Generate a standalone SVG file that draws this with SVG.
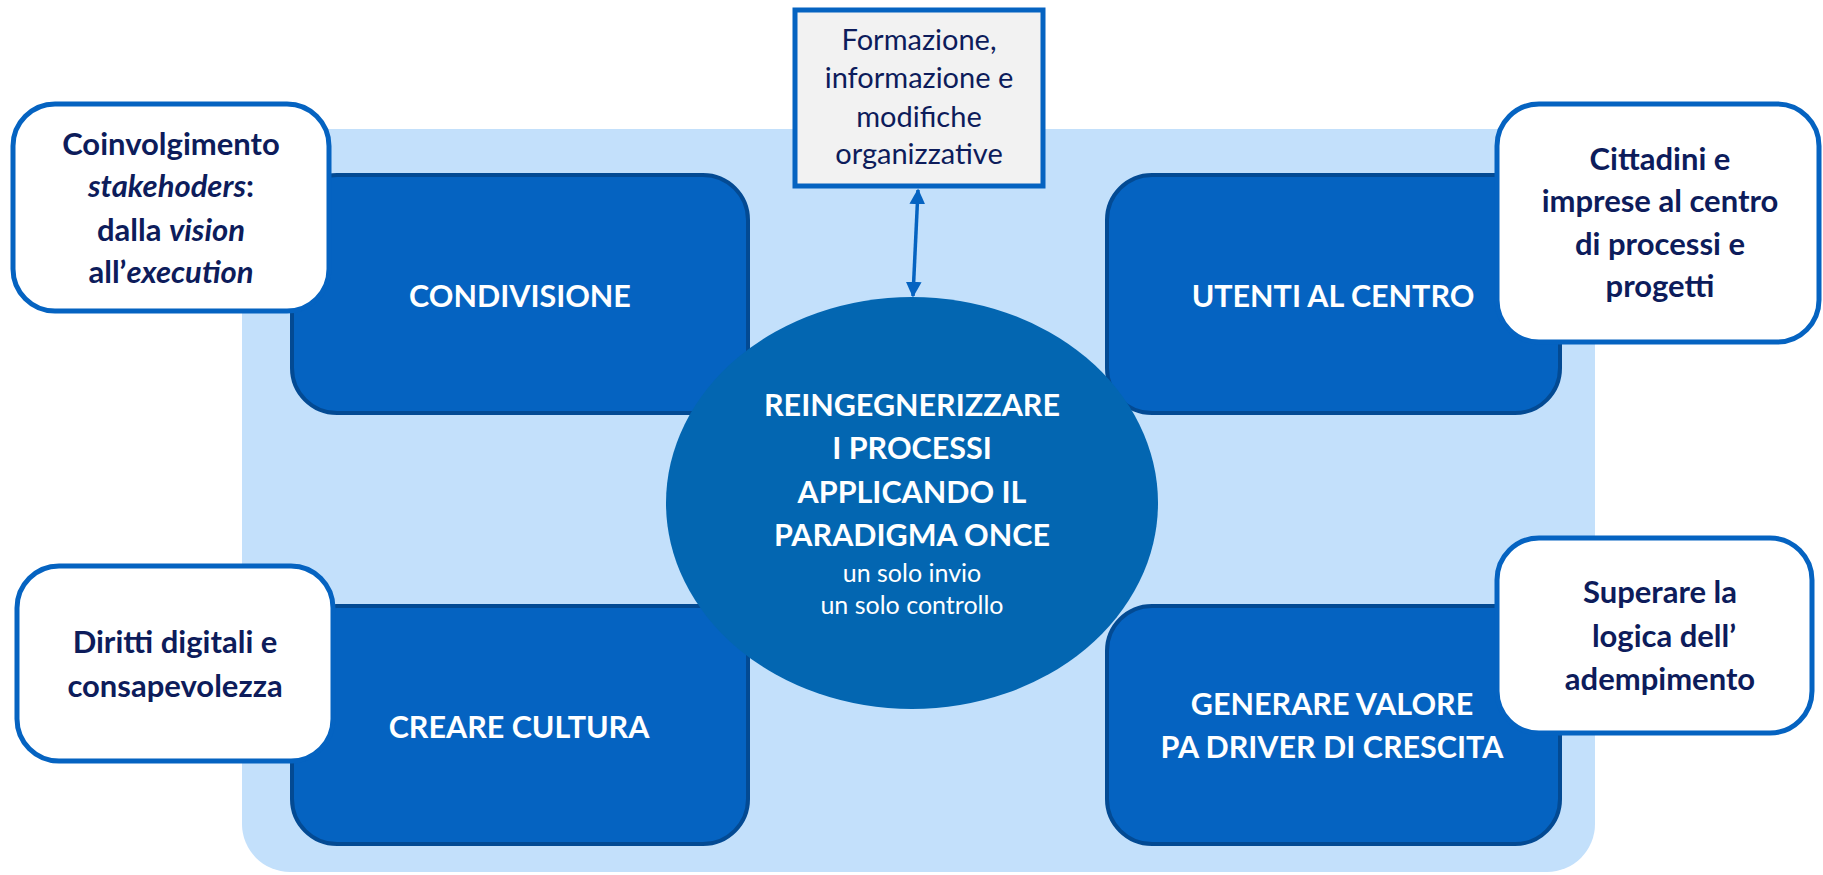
<svg xmlns="http://www.w3.org/2000/svg" width="1823" height="875" viewBox="0 0 1823 875">
<style>
.panel{fill:#C3E0FB}
.dark{fill:#0563C1;stroke:#034A93;stroke-width:4}
.call{fill:#FFFFFF;stroke:#0563C1;stroke-width:5}
.lbl{font-family:Lato,"Liberation Sans",sans-serif;font-weight:bold;font-size:30.5px;fill:#FFFFFF;text-anchor:middle}
.ct{font-family:Lato,"Liberation Sans",sans-serif;font-weight:bold;font-size:31px;fill:#0D1C5B;text-anchor:middle}
.it{font-style:italic}
.small{font-family:Lato,"Liberation Sans",sans-serif;font-size:25px;fill:#FFFFFF;text-anchor:middle}
.form{font-family:Lato,"Liberation Sans",sans-serif;font-size:29px;fill:#0D1C5B;text-anchor:middle}
.conn{stroke:#0563C1;stroke-width:3.5;fill:none}
</style>
<defs>
<marker id="ah" viewBox="0 0 10 10" refX="9" refY="5" markerWidth="4.5" markerHeight="4.5" orient="auto-start-reverse">
<path d="M0,0 L10,5 L0,10 Z" fill="#0563C1"/>
</marker>
</defs>
<g id="background">
<path class="panel" d="M242,129 H1595 V824 A48,48 0 0 1 1547,872 H290 A48,48 0 0 1 242,824 Z"/>
</g>
<g id="condivisione">
<rect class="dark" x="292" y="175" width="456" height="238" rx="45"/>
<text class="lbl" x="520" y="307">CONDIVISIONE</text>
</g>
<g id="utenti">
<rect class="dark" x="1107" y="175" width="453" height="238" rx="45"/>
<text class="lbl" x="1333" y="307">UTENTI AL CENTRO</text>
</g>
<g id="cultura">
<rect class="dark" x="292" y="606" width="456" height="238" rx="45"/>
<text class="lbl" x="519" y="738">CREARE CULTURA</text>
</g>
<g id="valore">
<rect class="dark" x="1107" y="606" width="453" height="238" rx="45"/>
<text class="lbl" x="1332" y="715">GENERARE VALORE</text>
<text class="lbl" x="1332" y="758">PA DRIVER DI CRESCITA</text>
</g>
<g id="centro">
<ellipse cx="912" cy="503" rx="246" ry="206" fill="#0366B1"/>
<text class="lbl" x="912" y="416">REINGEGNERIZZARE</text>
<text class="lbl" x="912" y="459">I PROCESSI</text>
<text class="lbl" x="912" y="503">APPLICANDO IL</text>
<text class="lbl" x="912" y="546">PARADIGMA ONCE</text>
<text class="small" x="912" y="582">un solo invio</text>
<text class="small" x="912" y="614">un solo controllo</text>
</g>
<g id="coinvolgimento">
<rect class="call" x="13" y="104" width="316" height="207" rx="42"/>
<text class="ct" x="171" y="155">Coinvolgimento</text>
<text class="ct" x="171" y="197"><tspan class="it">stakehoders</tspan>:</text>
<text class="ct" x="171" y="241">dalla <tspan class="it">vision</tspan></text>
<text class="ct" x="171" y="283">all’<tspan class="it">execution</tspan></text>
</g>
<g id="cittadini">
<rect class="call" x="1497" y="104" width="322" height="238" rx="42"/>
<text class="ct" x="1660" y="170">Cittadini e</text>
<text class="ct" x="1660" y="212">imprese al centro</text>
<text class="ct" x="1660" y="255">di processi e</text>
<text class="ct" x="1660" y="297">progetti</text>
</g>
<g id="diritti">
<rect class="call" x="17" y="566" width="316" height="195" rx="42"/>
<text class="ct" x="175" y="653">Diritti digitali e</text>
<text class="ct" x="175" y="697">consapevolezza</text>
</g>
<g id="superare">
<rect class="call" x="1497" y="538" width="315" height="195" rx="42"/>
<text class="ct" x="1660" y="603">Superare la</text>
<text class="ct" x="1664" y="647">logica dell’</text>
<text class="ct" x="1660" y="690">adempimento</text>
</g>
<g id="formazione">
<rect x="795" y="10" width="248" height="176" fill="#F2F2F2" stroke="#0563C1" stroke-width="5"/>
<text class="form" x="919" y="50">Formazione,</text>
<text class="form" x="919" y="88">informazione e</text>
<text class="form" x="919" y="127">modifiche</text>
<text class="form" x="919" y="164">organizzative</text>
</g>
<g id="connectors">
<line class="conn" x1="918" y1="190" x2="913" y2="296" marker-start="url(#ah)" marker-end="url(#ah)"/>
</g>
</svg>
